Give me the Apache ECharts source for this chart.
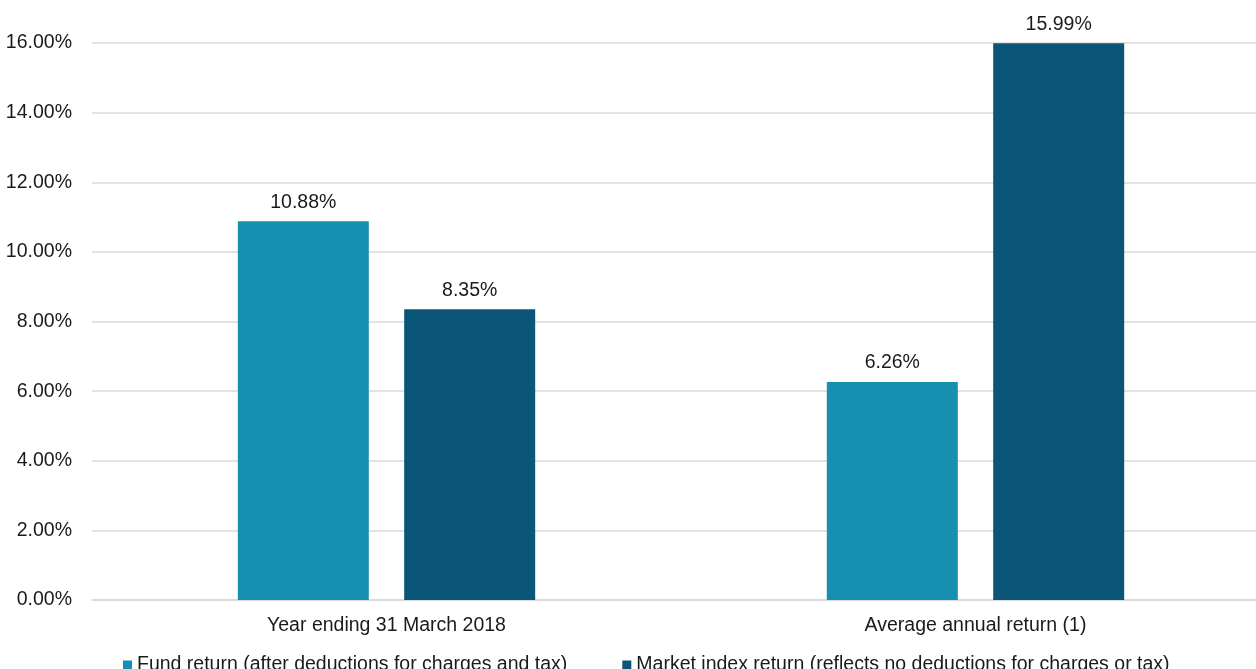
<!DOCTYPE html>
<html><head><meta charset="utf-8">
<script src="https://cdn.jsdelivr.net/npm/echarts@6/dist/echarts.min.js"></script>
<style>html,body{margin:0;padding:0;background:#fff}#c{width:1256px;height:669px}</style>
</head><body><div id="c"></div>
<script>
const categories = ['Year ending 31 March 2018', 'Average annual return (1)'];
const fundReturn = [10.88, 6.26];
const marketReturn = [8.35, 15.99];
const seriesNames = ['Fund return (after deductions for charges and tax)', 'Market index return (reflects no deductions for charges or tax)'];
const yTicks = {min: 0, max: 16, interval: 2};

const chart = echarts.init(document.getElementById('c'), null, {renderer: 'canvas'});
const font = 'Liberation Sans, Arial, sans-serif';
const fs = 19.5;
const lbl = {show: true, position: 'top', distance: 9, color: '#1a1a1a', fontSize: fs, fontFamily: font,
  formatter: p => p.value.toFixed(2) + '%'};
chart.setOption({
  animation: false,
  grid: {left: 92, width: 1178, top: 43, bottom: 69, containLabel: false, outerBoundsMode: 'none'},
  legend: {
    left: 118, top: 650, itemWidth: 9, itemHeight: 9, itemGap: 55, icon: 'rect',
    textStyle: {fontSize: fs, fontFamily: font, color: '#1a1a1a'},
    data: seriesNames
  },
  xAxis: {
    type: 'category', data: categories,
    axisLine: {lineStyle: {color: '#d9d9d9', width: 1.5}},
    axisTick: {show: false},
    axisLabel: {fontSize: fs, fontFamily: font, color: '#1a1a1a', margin: 16}
  },
  yAxis: {
    type: 'value', min: yTicks.min, max: yTicks.max, interval: yTicks.interval,
    axisLine: {show: false}, axisTick: {show: false},
    splitLine: {lineStyle: {color: '#d9d9d9', width: 1.5}},
    axisLabel: {fontSize: fs, fontFamily: font, color: '#1a1a1a', margin: 20,
      formatter: v => v.toFixed(2) + '%'}
  },
  series: [
    {name: seriesNames[0], type: 'bar', data: fundReturn, barWidth: 131, barGap: '27%',
     itemStyle: {color: '#178FB0'}, label: lbl},
    {name: seriesNames[1], type: 'bar', data: marketReturn, barWidth: 131,
     itemStyle: {color: '#0B5678'}, label: lbl}
  ]
});
</script></body></html>
